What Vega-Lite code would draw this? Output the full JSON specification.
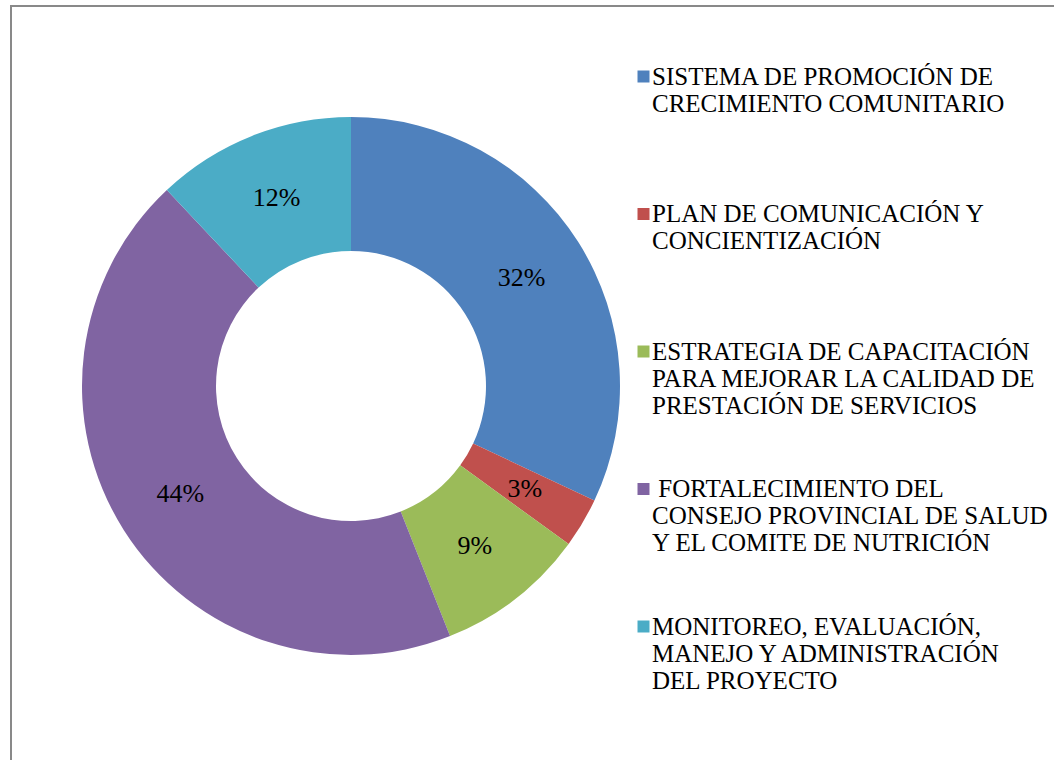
{
  "$schema": "https://vega.github.io/schema/vega-lite/v6.json",
  "width": 1047,
  "height": 758,
  "autosize": "none",
  "padding": {"left": 11, "top": 6, "right": -4, "bottom": -4},
  "background": "white",
  "view": {"stroke": "#898989", "strokeWidth": 2, "fill": "white"},
  "config": {"view": {"stroke": "#898989", "strokeWidth": 2}},
  "data": {
    "values": [
      {"id": 1, "componente": "SISTEMA DE PROMOCIÓN DE\nCRECIMIENTO COMUNITARIO", "porcentaje": 0.32},
      {"id": 2, "componente": "PLAN DE COMUNICACIÓN Y\nCONCIENTIZACIÓN", "porcentaje": 0.03},
      {"id": 3, "componente": "ESTRATEGIA DE CAPACITACIÓN\nPARA MEJORAR LA CALIDAD DE\nPRESTACIÓN DE SERVICIOS", "porcentaje": 0.09},
      {"id": 4, "componente": "\u200b\u00a0FORTALECIMIENTO DEL\nCONSEJO PROVINCIAL DE SALUD\nY EL COMITE DE NUTRICIÓN", "porcentaje": 0.44},
      {"id": 5, "componente": "MONITOREO, EVALUACIÓN,\nMANEJO Y ADMINISTRACIÓN\nDEL PROYECTO", "porcentaje": 0.12}
    ]
  },
  "encoding": {
    "theta": {"field": "porcentaje", "type": "quantitative", "stack": true},
    "order": {"field": "id", "type": "quantitative", "sort": "ascending"},
    "color": {
      "field": "componente",
      "type": "nominal",
      "scale": {
        "domain": [
          "SISTEMA DE PROMOCIÓN DE\nCRECIMIENTO COMUNITARIO",
          "PLAN DE COMUNICACIÓN Y\nCONCIENTIZACIÓN",
          "ESTRATEGIA DE CAPACITACIÓN\nPARA MEJORAR LA CALIDAD DE\nPRESTACIÓN DE SERVICIOS",
          "\u200b\u00a0FORTALECIMIENTO DEL\nCONSEJO PROVINCIAL DE SALUD\nY EL COMITE DE NUTRICIÓN",
          "MONITOREO, EVALUACIÓN,\nMANEJO Y ADMINISTRACIÓN\nDEL PROYECTO"
        ],
        "range": ["#4F81BD", "#C0504D", "#9BBB59", "#8064A2", "#4BACC6"]
      },
      "legend": {
        "title": null,
        "orient": "none",
        "legendX": 620,
        "legendY": 58,
        "symbolType": "square",
        "symbolSize": 144,
        "symbolStrokeWidth": 0,
        "labelFont": "Liberation Serif",
        "labelFontSize": 25,
        "labelColor": "black",
        "labelLimit": 1000,
        "labelBaseline": "alphabetic",
        "labelOffset": -4,
        "rowPadding": 57.5,
        "gridAlign": "all",
        "labelExpr": "split(datum.label, '\\n')",
        "encode": {
          "labels": {"update": {"dy": {"value": 8}, "lineHeight": {"value": 27}}}
        }
      }
    }
  },
  "layer": [
    {"mark": {"type": "arc", "outerRadius": 269, "innerRadius": 135, "x": 340, "y": 380}},
    {
      "mark": {"type": "text", "radius": 202, "x": 340, "y": 380, "font": "Liberation Serif", "fontSize": 26},
      "encoding": {
        "text": {"field": "porcentaje", "type": "quantitative", "format": ".0%"},
        "color": {"value": "black"}
      }
    }
  ]
}
